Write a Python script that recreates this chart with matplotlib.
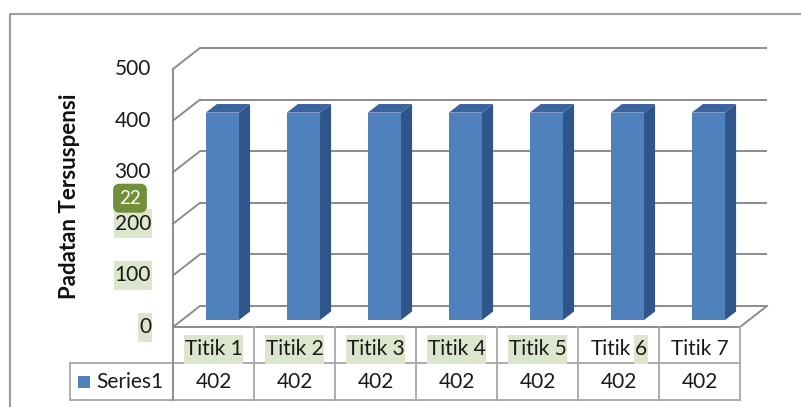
import matplotlib.pyplot as plt
from matplotlib.patches import Polygon, Rectangle

plt.rcParams['font.family'] = ['Lato', 'DejaVu Sans']

categories = ['Titik 1', 'Titik 2', 'Titik 3', 'Titik 4', 'Titik 5', 'Titik 6', 'Titik 7']
values = [402, 402, 402, 402, 402, 402, 402]
series_name = 'Series1'
y_ticks = [0, 100, 200, 300, 400, 500]
y_label = 'Padatan Tersuspensi'

W, H = 801, 407
fig = plt.figure(figsize=(W / 100, H / 100), dpi=100)
ax = fig.add_axes([0, 0, 1, 1])

# pixel layout of the chart: one category = 81 px, 100 units = 51.6 px
PX_CAT = 81.0
PX_VAL = 0.516
X0 = 173.0      # front-left corner of the floor
Y0 = 327.0
ax.set_xlim(-0.5 - X0 / PX_CAT, -0.5 + (W - X0) / PX_CAT)
ax.set_ylim(-(H - Y0) / PX_VAL, Y0 / PX_VAL)
ax.axis('off')

# depth of the 3d box, in data units
DX = 27 / PX_CAT
DY = 21 / PX_VAL


def proj(x, v, d):
    return (x + d * DX, v + d * DY)


grid_c = '#8c8c8c'
n = len(categories)
xl, xr = -0.5, n - 0.5
vmax = max(y_ticks)

# back wall gridlines and left wall diagonals
for v in y_ticks:
    a, b = proj(xl, v, 1), proj(xr, v, 1)
    ax.plot([a[0], b[0]], [a[1], b[1]], color=grid_c, lw=1.4, zorder=1,
            solid_capstyle='butt')
    c = proj(xl, v, 0)
    ax.plot([c[0], a[0]], [c[1], a[1]], color=grid_c, lw=1.4, zorder=1)

# floor right edge
a, b = proj(xr, 0, 0), proj(xr, 0, 1)
ax.plot([a[0], b[0]], [a[1], b[1]], color=grid_c, lw=1.4, zorder=1)

# 3d columns
front_c, side_c, top_c = '#4f81bd', '#30558a', '#3a64a0'
bw = 0.41
d0, d1 = 0.33, 0.74
for i, v in enumerate(values):
    l, r = i - bw / 2, i + bw / 2
    side = [proj(r, 0, d0), proj(r, 0, d1), proj(r, v, d1), proj(r, v, d0)]
    top = [proj(l, v, d0), proj(r, v, d0), proj(r, v, d1), proj(l, v, d1)]
    front = [proj(l, 0, d0), proj(r, 0, d0), proj(r, v, d0), proj(l, v, d0)]
    ax.add_patch(Polygon(side, closed=True, fc=side_c, ec='none', zorder=3))
    ax.add_patch(Polygon(top, closed=True, fc=top_c, ec='none', zorder=3))
    ax.add_patch(Polygon(front, closed=True, fc=front_c, ec='none', zorder=3))

FS = 15
txt_c = '#1a1a1a'
hl = '#dce6cc'
marked = []     # labels that get a pale green highlight

# y tick labels on the front axis
for v in y_ticks:
    t = ax.text(xl - 22 / PX_CAT, v, str(v), ha='right', va='center',
                fontsize=FS, color=txt_c, zorder=5)
    if v <= 200:
        marked.append(t)

ax.text(xl - 103 / PX_CAT, 254, y_label, rotation=90,
        ha='center', va='center', fontsize=16, fontweight='bold', color='#111111')

# dark green page marker
ax.text(xl - 43 / PX_CAT, 300 - 26 / PX_VAL, '22', ha='center', va='center',
        fontsize=13.5, color='white', zorder=6,
        bbox=dict(boxstyle='round,pad=0.32,rounding_size=0.35', fc='#718f38', ec='none'))

# data table under the floor
tab_c = '#a6a6a6'
row1 = -36 / PX_VAL
row2 = -73 / PX_VAL
leg_l = xl - 103 / PX_CAT
ax.plot([xl, xr], [0, 0], color=grid_c, lw=1.4, zorder=4)
ax.plot([leg_l, xr], [row1, row1], color=tab_c, lw=1.3, zorder=4)
ax.plot([leg_l, xr], [row2, row2], color=tab_c, lw=1.3, zorder=4)
ax.plot([leg_l, leg_l], [row1, row2], color=tab_c, lw=1.3, zorder=4)
ax.plot([xl, xl], [vmax, row2], color=grid_c, lw=1.4, zorder=4)
for k in range(1, n + 1):
    ax.plot([xl + k, xl + k], [0, row2], color=tab_c, lw=1.3, zorder=4)

cat_y = -22 / PX_VAL
val_y = -55 / PX_VAL
fig.canvas.draw()
inv = ax.transData.inverted()
for i, (cat, v) in enumerate(zip(categories, values)):
    if i == 5:
        # last digit gets its own highlight, so draw it apart from the word
        probe = ax.text(i, cat_y, cat, ha='center', va='center', fontsize=FS)
        fig.canvas.draw()
        ext = probe.get_window_extent()
        probe.remove()
        head, tail = cat.rsplit(' ', 1)
        x_right = inv.transform((ext.x1, ext.y0))[0]
        d = ax.text(x_right, cat_y, tail, ha='right', va='center', fontsize=FS,
                    color=txt_c, zorder=5)
        fig.canvas.draw()
        dext = d.get_window_extent()
        x_gap = inv.transform((dext.x0 - 4, dext.y0))[0]
        ax.text(x_gap, cat_y, head, ha='right', va='center', fontsize=FS,
                color=txt_c, zorder=5)
        marked.append(d)
    else:
        t = ax.text(i, cat_y, cat, ha='center', va='center', fontsize=FS,
                    color=txt_c, zorder=5)
        if i < 5:
            marked.append(t)
    ax.text(i, val_y, str(v), ha='center', va='center', fontsize=FS,
            color=txt_c, zorder=5)

# pale green highlight boxes behind the marked labels
fig.canvas.draw()
for t in marked:
    ext = t.get_window_extent()
    cy = (ext.y0 + ext.y1) / 2
    p0 = inv.transform((ext.x0 - 1, cy - 14.5))
    p1 = inv.transform((ext.x1 + 1, cy + 14.5))
    ax.add_patch(Rectangle(p0, p1[0] - p0[0], p1[1] - p0[1], fc=hl, ec='none', zorder=4.5))

# legend key inside the table
ax.add_patch(Rectangle((leg_l + 8 / PX_CAT, val_y - 6 / PX_VAL), 12 / PX_CAT, 12 / PX_VAL,
                       fc=front_c, ec='none', zorder=5))
ax.text(leg_l + 26 / PX_CAT, val_y, series_name, ha='left', va='center',
        fontsize=FS, color=txt_c, zorder=5)

# chart area border
frame_x = xl - 163 / PX_CAT
frame_y = vmax + 55 / PX_VAL
ax.plot([frame_x, frame_x, ax.get_xlim()[1]], [ax.get_ylim()[0], frame_y, frame_y],
        color='#9c9c9c', lw=1.5, zorder=1, clip_on=False)

fig.savefig('out.png', dpi=100)
